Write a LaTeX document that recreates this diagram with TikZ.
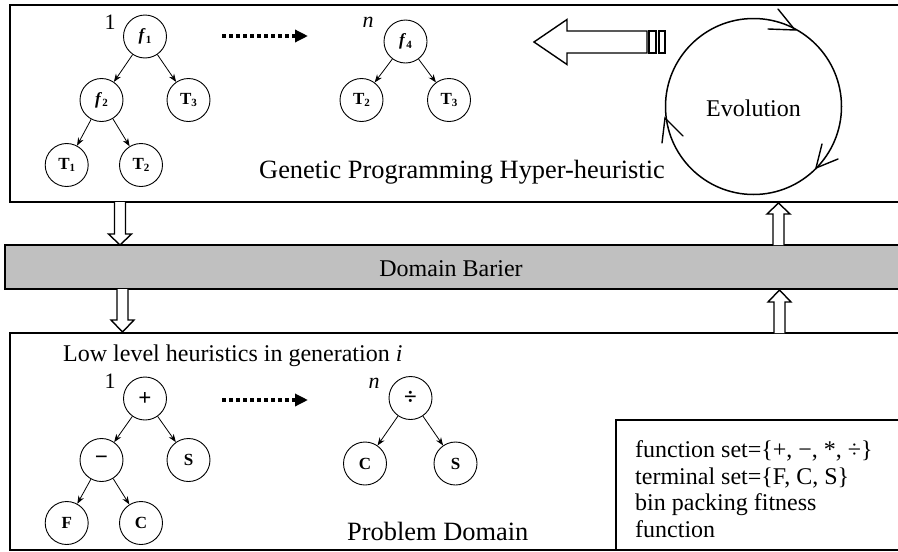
\documentclass[tikz,border=0pt]{standalone}
\usepackage{fontspec}
\setmainfont{Liberation Serif}
\usetikzlibrary{arrows.meta}
\newcommand\lowidx[1]{\raisebox{-0.3ex}{\fontsize{11}{11}\selectfont #1}}
\begin{document}
\begin{tikzpicture}[x=1pt,y=-1pt,
  tnode/.style={circle,draw,line width=0.9pt,minimum size=43pt,inner sep=0pt,font=\fontsize{17}{17}\selectfont\bfseries},
  opnode/.style={tnode,font=\fontsize{23}{23}\selectfont\bfseries},
  tedge/.style={line width=0.8pt,-{Stealth[length=8pt,width=6pt]}},
  big/.style={font=\fontsize{24}{26.7}\selectfont,inner sep=0pt},
  bigger/.style={font=\fontsize{26.4}{28}\selectfont,inner sep=0pt},
  idx/.style={font=\fontsize{22}{22}\selectfont,inner sep=0pt,anchor=base},
  dotarrow/.style={line width=3.5pt,dash pattern=on 3.5pt off 3.5pt,-{Triangle[length=13pt,width=12pt]}},
  hollow/.style={draw,fill=white,line width=1.4pt,line join=miter},
  frame/.style={draw,line width=1.8pt},
  chev/.style={line width=1.4pt,line cap=round}]
\useasboundingbox (0,0) rectangle (898,552);
% frames
\draw[frame] (10,5) rectangle (905,202);
\draw[draw,fill={rgb,255:red,192;green,192;blue,192},line width=1.5pt] (5,245) rectangle (905,289);
\draw[frame] (10,333) rectangle (905,550);
\draw[line width=1.5pt] (616,420) rectangle (905,550);
% hollow vertical arrows
\draw[hollow] (114.5,202) -- (114.5,234) -- (108.5,234) -- (120,245) -- (131.5,234) -- (125.5,234) -- (125.5,202);
\draw[hollow] (117,289) -- (117,320) -- (111,320) -- (122.5,332) -- (134,320) -- (128,320) -- (128,289);
\draw[hollow] (773,245) -- (773,214) -- (767,214) -- (778.5,203) -- (790,214) -- (784,214) -- (784,245);
\draw[hollow] (774,333) -- (774,302) -- (768,302) -- (779.5,290) -- (791,302) -- (785,302) -- (785,333);
% big left arrow
\draw[hollow] (534,42) -- (567,19.5) -- (567,31) -- (647,31) -- (647,53) -- (567,53) -- (567,64.5) -- cycle;
\draw[line width=1.4pt] (649,31) rectangle (656,53);
\draw[line width=1.4pt] (659,31) rectangle (665,53);
% evolution cycle
\node[circle,draw,line width=1.5pt,minimum size=176pt,inner sep=0pt] (evo) at (753.5,106.5) {};
\node[big,anchor=base] (evotxt) at (753.5,116) {Evolution};
\draw[chev] (778,9) -- (795,30) -- (768,29);
\draw[chev] (662,143) -- (665,118) -- (683,136);
\draw[chev] (822,144) -- (816,168) -- (838,159);
% top trees
\node[tnode] (f1) at (145,36.5) {\textit{f}\lowidx{1}};
\node[tnode] (f2) at (101.5,100) {\textit{f}\lowidx{2}};
\node[tnode] (t3) at (188.5,100) {T\lowidx{3}};
\node[tnode] (t1) at (66.7,165) {T\lowidx{1}};
\node[tnode] (t2) at (141,165) {T\lowidx{2}};
\draw[tedge] (f1) -- (f2);
\draw[tedge] (f1) -- (t3);
\draw[tedge] (f2) -- (t1);
\draw[tedge] (f2) -- (t2);
\node[idx] (one1) at (110,29) {1};
\node[idx] (nn1) at (368,27) {\textit{n}};
\coordinate (da1) at (222,36);
\coordinate (db1) at (308,36);
\draw[dotarrow] (da1) -- (db1);
\node[tnode] (f4) at (405.5,41.5) {\textit{f}\lowidx{4}};
\node[tnode] (u2) at (361.5,100) {T\lowidx{2}};
\node[tnode] (u3) at (449,100) {T\lowidx{3}};
\draw[tedge] (f4) -- (u2);
\draw[tedge] (f4) -- (u3);
\node[bigger,anchor=base west] (gp) at (259,178) {Genetic Programming Hyper-heuristic};
% barrier
\node[big,anchor=base] (db) at (451,276) {Domain Barier};
% bottom
\node[big,anchor=base west] (llh) at (63,361) {Low level heuristics in generation \textit{i}};
\node[opnode] (p1) at (145,398.5) {+};
\node[opnode] (m1) at (101.5,460) {\textminus};
\node[tnode] (s1) at (188.5,460) {S};
\node[tnode] (ff) at (66.7,523) {F};
\node[tnode] (c1) at (141,523) {C};
\draw[tedge] (p1) -- (m1);
\draw[tedge] (p1) -- (s1);
\draw[tedge] (m1) -- (ff);
\draw[tedge] (m1) -- (c1);
\node[idx] (one2) at (110,388) {1};
\node[idx] (nn2) at (374,388) {\textit{n}};
\coordinate (da2) at (222,400);
\coordinate (db2) at (308,400);
\draw[dotarrow] (da2) -- (db2);
\node[opnode] (dv) at (410.5,398) {÷};
\node[tnode] (c2) at (365,463.5) {C};
\node[tnode] (s2) at (455.5,463.5) {S};
\draw[tedge] (dv) -- (c2);
\draw[tedge] (dv) -- (s2);
\node[bigger,anchor=base west] (pd) at (347,540) {Problem Domain};
\node[big,anchor=base west] (i1) at (635,457) {function set=\{+, −, *, ÷\}};
\node[big,anchor=base west] (i2) at (635,484) {terminal set=\{F, C, S\}};
\node[big,anchor=base west] (i3) at (635,510) {bin packing fitness};
\node[big,anchor=base west] (i4) at (635,537) {function};
\end{tikzpicture}
\end{document}
